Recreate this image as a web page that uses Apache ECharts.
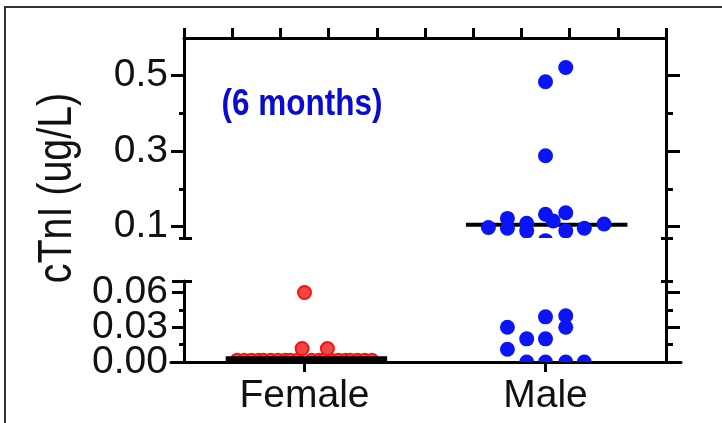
<!DOCTYPE html>
<html><head><meta charset="utf-8">
<script src="https://cdn.jsdelivr.net/npm/echarts@6/dist/echarts.min.js"></script>
<style>html,body{margin:0;padding:0;background:#fff}#c{width:722px;height:423px}</style>
</head><body><div id="c"></div>
<script>
const categories = ['Female', 'Male'];
// Female (red) dots: offset from category centre (x units) and value
const femaleOffsets = [0.0, -0.01, 0.095];
const femaleValues = [0.060, 0.0116, 0.0116];
// Female dots sitting on the baseline (mostly hidden by the median bar)
const femaleBaseOffsets = [-0.28, -0.25, -0.22, -0.19, -0.17, -0.14, -0.11, -0.08, -0.06, -0.03, 0.03, 0.06, 0.08, 0.11, 0.14, 0.17, 0.19, 0.22, 0.25, 0.28];
const femaleBaseValues = [0.002, 0.002, 0.002, 0.002, 0.002, 0.002, 0.002, 0.002, 0.002, 0.002, 0.002, 0.002, 0.002, 0.002, 0.002, 0.002, 0.002, 0.002, 0.002, 0.002];
// Male (blue) dots, upper segment of the broken axis
const maleUpperOffsets = [0.084, 0, 0, -0.237, -0.158, -0.158, -0.078, -0.078, 0, 0, 0.032, 0.084, 0.084, 0.161, 0.243];
const maleUpperValues = [0.522, 0.484, 0.288, 0.098, 0.122, 0.096, 0.109, 0.089, 0.133, 0.063, 0.115, 0.137, 0.089, 0.096, 0.107];
// Male (blue) dots, lower segment
const maleLowerOffsets = [-0.158, -0.158, -0.078, 0, 0, 0.084, 0.084, -0.078, 0, 0.084, 0.161];
const maleLowerValues = [0.030, 0.011, 0.020, 0.039, 0.020, 0.040, 0.030, 0, 0, 0, 0];
// Median bars
const medianValues = [0.002, 0.105];
const medianOffsets = [0.008, 0.005];
// Axis ticks
const upperTicks = [0.1, 0.3, 0.5];
const upperMinor = [0.2, 0.4];
const lowerTicks = [0, 0.03, 0.06];
const lowerLabelsA = [0, 0.06];
const lowerLabelsB = [0.03];
const lowerMinor = [0.015, 0.045];
const breakValue = 0.07;
const upperMax = 0.6;

const FONT = "'Liberation Sans', Arial, sans-serif";
const INK = '#111';

function yAx(grid, pos, min, max, o) {
  return Object.assign({
    type: 'value', gridIndex: grid, position: pos, min: min, max: max,
    splitLine: { show: false },
    axisLine: { show: false, onZero: false },
    axisTick: { show: false },
    axisLabel: { show: false }
  }, o);
}
function ticks(vals, len, inside) {
  return { show: true, customValues: vals, length: len, inside: !!inside, lineStyle: { color: '#000', width: 3 } };
}
function tickLabels(vals, digits) {
  return { show: true, customValues: vals, margin: 16, fontSize: 39, fontFamily: FONT, color: INK,
           hideOverlap: false, showMinLabel: true, showMaxLabel: true,
           formatter: v => Number(v).toFixed(digits) };
}
function dots(cat, offs, vals, xi, yi, fill, stroke, r, z) {
  return {
    type: 'custom', xAxisIndex: xi, yAxisIndex: yi, clip: true, z: z, silent: true,
    data: vals.map((v, i) => [cat + 0.5 + offs[i], v]),
    encode: { x: 0, y: 1 },
    renderItem: function (params, api) {
      const p = api.coord([api.value(0), api.value(1)]);
      return { type: 'circle', shape: { cx: p[0], cy: p[1], r: r },
               style: { fill: fill, stroke: stroke, lineWidth: stroke ? 2 : 0 } };
    }
  };
}
function median(cat, xi, yi, width, z) {
  const c = cat + 0.5 + medianOffsets[cat];
  return {
    type: 'line', xAxisIndex: xi, yAxisIndex: yi, symbol: 'none', z: z, silent: true,
    data: [[c - 0.335, medianValues[cat]], [c + 0.335, medianValues[cat]]],
    lineStyle: { color: '#000', width: width }
  };
}

const chart = echarts.init(document.getElementById('c'), null, { renderer: 'canvas' });
chart.setOption({
  animation: false,
  backgroundColor: '#fff',
  grid: [
    { left: 184, top: 38, width: 482, height: 200, outerBoundsMode: 'none' },
    { left: 184, top: 281, width: 482, height: 81, outerBoundsMode: 'none' },
    { left: 184, top: 38, width: 482, height: 324, outerBoundsMode: 'none' },
    { left: 171, top: 281, width: 510, height: 81, outerBoundsMode: 'none' }
  ],
  xAxis: [
    { type: 'value', gridIndex: 0, position: 'top', min: 0, max: 2, interval: 0.2,
      splitLine: { show: false },
      axisLine: { show: true, onZero: false, lineStyle: { color: '#000', width: 3 } },
      axisTick: { show: true, length: 10, lineStyle: { color: '#000', width: 3 } },
      axisLabel: { show: false } },
    { type: 'category', gridIndex: 1, position: 'bottom', data: categories,
      axisLine: { show: false, onZero: false },
      axisTick: { show: true, alignWithLabel: true, length: 10, lineStyle: { color: '#000', width: 3 } },
      axisLabel: { show: true, margin: 15, fontSize: 39, fontFamily: FONT, color: INK, hideOverlap: false } },
    { type: 'value', gridIndex: 1, min: 0, max: 2, show: false, axisLine: { onZero: false } },
    { type: 'value', gridIndex: 2, min: 0, max: 2, show: false, axisLine: { onZero: false } },
    { type: 'value', gridIndex: 3, position: 'bottom', min: 0, max: 1,
      splitLine: { show: false },
      axisLine: { show: true, onZero: false, lineStyle: { color: '#000', width: 3 } },
      axisTick: { show: false }, axisLabel: { show: false } }
  ],
  yAxis: [
    // grid 0 (upper)
    yAx(0, 'left', breakValue, upperMax, {
      axisLine: { show: true, onZero: false, lineStyle: { color: '#000', width: 3 } },
      axisTick: ticks(upperTicks, 13),
      axisLabel: tickLabels(upperTicks, 1) }),
    yAx(0, 'left', breakValue, upperMax, { axisTick: ticks(upperMinor.concat([breakValue]), 5) }),
    yAx(0, 'left', breakValue, upperMax, { axisTick: ticks([breakValue], 8, true) }),
    yAx(0, 'right', breakValue, upperMax, { axisTick: ticks(upperTicks, 14) }),
    yAx(0, 'right', breakValue, upperMax, { axisTick: ticks(upperMinor.concat([breakValue]), 7) }),
    yAx(0, 'right', breakValue, upperMax, { axisTick: ticks([breakValue], 5, true) }),
    // grid 1 (lower)
    yAx(1, 'left', 0, breakValue, {
      axisLine: { show: true, onZero: false, lineStyle: { color: '#000', width: 3 } },
      axisTick: ticks(lowerTicks.concat([breakValue]), 12),
      axisLabel: tickLabels(lowerLabelsA, 2) }),
    yAx(1, 'left', 0, breakValue, { axisTick: ticks(lowerMinor, 5), axisLabel: tickLabels(lowerLabelsB, 2) }),
    yAx(1, 'left', 0, breakValue, { axisTick: ticks([breakValue], 8, true) }),
    yAx(1, 'right', 0, breakValue, { axisTick: ticks(lowerTicks, 14) }),
    yAx(1, 'right', 0, breakValue, { axisTick: ticks(lowerMinor.concat([breakValue]), 7) }),
    yAx(1, 'right', 0, breakValue, { axisTick: ticks([breakValue], 5, true) }),
    // grid 2: continuous right frame line
    yAx(2, 'right', 0, 1, { axisLine: { show: true, onZero: false, lineStyle: { color: '#000', width: 3 } } }),
    // grid 3: helper for long baseline
    yAx(3, 'left', 0, 1, {})
  ],
  series: [
    median(1, 0, 0, 4, 1),
    dots(1, maleUpperOffsets, maleUpperValues, 0, 0, '#0a14f5', null, 7.5, 2),
    dots(1, maleLowerOffsets, maleLowerValues, 2, 6, '#0a14f5', null, 7.5, 2),
    dots(0, femaleBaseOffsets, femaleBaseValues, 2, 6, '#f24a4a', '#ff1010', 6, 2),
    dots(0, femaleOffsets, femaleValues, 2, 6, '#f04848', '#ff1010', 6.5, 2),
    median(0, 2, 6, 7, 5)
  ],
  graphic: [
    { type: 'rect', silent: true, shape: { x: 5, y: 7, width: 760, height: 460 },
      style: { fill: null, stroke: '#333', lineWidth: 2 } },
    { type: 'text', silent: true, x: 58, y: 188, rotation: Math.PI / 2, scaleX: 0.82,
      style: { text: 'cTnI (ug/L)', fontSize: 48, fontFamily: FONT, fill: INK,
               align: 'center', verticalAlign: 'middle', textAlign: 'center', textVerticalAlign: 'middle' } },
    { type: 'text', silent: true, x: 302, y: 105, scaleX: 0.875,
      style: { text: '(6 months)', fontSize: 36, fontWeight: 'bold', fontFamily: FONT, fill: '#0a0ad0',
               align: 'center', verticalAlign: 'middle', textAlign: 'center', textVerticalAlign: 'middle' } }
  ]
});
</script>
</body></html>
